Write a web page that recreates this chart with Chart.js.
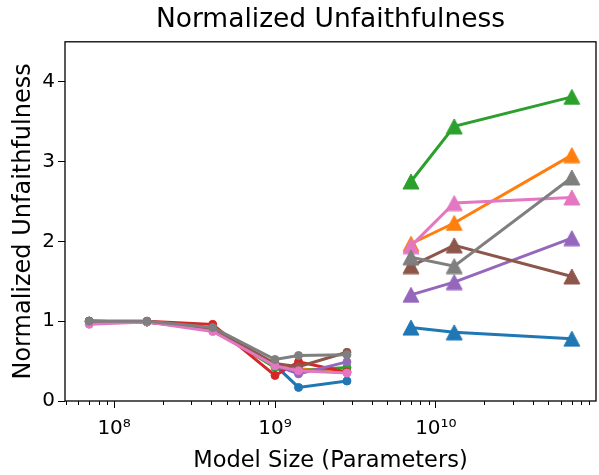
<!DOCTYPE html>
<html>
<head>
<meta charset="utf-8">
<script src="https://cdn.jsdelivr.net/npm/chart.js@4"></script>
<style>
  html, body { margin: 0; padding: 0; background: #fff; }
  #wrap { width: 599px; height: 475px; }
</style>
</head>
<body>
<div id="wrap"><canvas id="unfaithChart" width="599" height="475"></canvas></div>
<script>
// model sizes (parameters)
const smallSizes = [7e7, 1.6e8, 4.1e8, 1e9, 1.4e9, 2.8e9];
const largeSizes = [7e9, 1.3e10, 7e10];

// normalized unfaithfulness, small models
const smallBlue   = [1.00, 0.99, 0.90, 0.45, 0.17, 0.25];
const smallOrange = [1.00, 0.99, 0.90, 0.44, 0.40, 0.37];
const smallGreen  = [1.00, 0.99, 0.90, 0.42, 0.38, 0.42];
const smallRed    = [1.00, 1.00, 0.96, 0.32, 0.49, 0.36];
const smallPurple = [0.98, 0.99, 0.89, 0.45, 0.34, 0.49];
const smallBrown  = [1.00, 0.99, 0.91, 0.47, 0.43, 0.61];
const smallPink   = [0.96, 0.99, 0.87, 0.44, 0.38, 0.35];
const smallGray   = [1.00, 1.00, 0.92, 0.52, 0.57, 0.58];

// normalized unfaithfulness, large models
const largeBlue   = [0.92, 0.86, 0.78];
const largeOrange = [1.97, 2.23, 3.08];
const largeGreen  = [2.75, 3.44, 3.81];
const largePurple = [1.33, 1.49, 2.04];
const largeBrown  = [1.69, 1.95, 1.56];
const largePink   = [1.94, 2.48, 2.55];
const largeGray   = [1.80, 1.69, 2.80];

// axis ticks
const xMajorTicks = [1e8, 1e9, 1e10];
const xTickLabels = ['10\u2078', '10\u2079', '10\u00b9\u2070'];
const yTicks = [0, 1, 2, 3, 4];

const xMin = 4.95e7, xMax = 9.89e10;

const xMinorTicks = [];
for (let e = 7; e <= 10; e++) {
    for (let m = 2; m <= 9; m++) {
        const v = m * Math.pow(10, e);
        if (v > xMin && v < xMax) xMinorTicks.push(v);
    }
}

const groups = [
    { color: '#1f77b4', small: smallBlue,   large: largeBlue },
    { color: '#ff7f0e', small: smallOrange, large: largeOrange },
    { color: '#2ca02c', small: smallGreen,  large: largeGreen },
    { color: '#d62728', small: smallRed,    large: null },
    { color: '#9467bd', small: smallPurple, large: largePurple },
    { color: '#8c564b', small: smallBrown,  large: largeBrown },
    { color: '#e377c2', small: smallPink,   large: largePink },
    { color: '#7f7f7f', small: smallGray,   large: largeGray }
];

// upward triangle centred on its bounding box
function triangleMarker(color) {
    const c = document.createElement('canvas');
    c.width = 18;
    c.height = 17;
    const g = c.getContext('2d');
    g.fillStyle = color;
    g.strokeStyle = color;
    g.lineWidth = 1;
    g.beginPath();
    g.moveTo(c.width / 2, 1);
    g.lineTo(c.width - 1, c.height - 1);
    g.lineTo(1, c.height - 1);
    g.closePath();
    g.fill();
    g.stroke();
    return c;
}

function points(xs, ys) {
    return xs.map((x, i) => ({ x: x, y: ys[i] }));
}

const datasets = [];
groups.forEach(grp => {
    datasets.push({
        data: points(smallSizes, grp.small),
        borderColor: grp.color,
        backgroundColor: grp.color,
        pointBackgroundColor: grp.color,
        pointBorderColor: grp.color,
        pointStyle: 'circle',
        pointRadius: 4,
        pointBorderWidth: 1,
        borderWidth: 3,
        showLine: true,
        tension: 0
    });
});
groups.forEach(grp => {
    if (!grp.large) return;
    datasets.push({
        data: points(largeSizes, grp.large),
        borderColor: grp.color,
        backgroundColor: grp.color,
        pointStyle: triangleMarker(grp.color),
        pointRadius: 8,
        borderWidth: 3,
        showLine: true,
        tension: 0
    });
});
datasets.forEach((ds, i) => { ds.order = -i; });

const framePlugin = {
    id: 'frame',
    afterDraw(chart) {
        const { ctx, chartArea: a } = chart;
        const xs = chart.scales.x;
        ctx.save();
        ctx.strokeStyle = '#000';
        ctx.lineWidth = 1;
        xMinorTicks.forEach(v => {
            const px = Math.round(xs.getPixelForValue(v)) + 0.5;
            ctx.beginPath();
            ctx.moveTo(px, a.bottom);
            ctx.lineTo(px, a.bottom + 4);
            ctx.stroke();
        });
        ctx.lineWidth = 1.3;
        ctx.strokeRect(a.left, a.top, a.right - a.left, a.bottom - a.top);
        ctx.restore();
    }
};

Chart.defaults.font.family = 'DejaVu Sans';
Chart.defaults.color = '#000';

new Chart(document.getElementById('unfaithChart'), {
    type: 'scatter',
    data: { datasets: datasets },
    options: {
        responsive: false,
        animation: false,
        devicePixelRatio: 1,
        layout: { autoPadding: false, padding: { left: 0, right: 3, top: 0, bottom: 0 } },
        plugins: {
            legend: { display: false },
            tooltip: { enabled: false },
            title: {
                display: true,
                text: 'Normalized Unfaithfulness',
                fullSize: false,
                color: '#000',
                font: { size: 26.5, weight: 'normal' },
                padding: { top: 4, bottom: 6 }
            }
        },
        scales: {
            x: {
                type: 'logarithmic',
                min: xMin,
                max: xMax,
                afterBuildTicks: axis => {
                    axis.ticks = xMajorTicks.map(v => ({ value: v }));
                },
                afterFit: axis => { axis.height = 74; },
                ticks: {
                    autoSkip: false,
                    maxRotation: 0,
                    padding: 9,
                    color: '#000',
                    font: { size: 20 },
                    callback: (value, index) => xTickLabels[index]
                },
                grid: {
                    drawOnChartArea: false,
                    tickLength: 7,
                    tickWidth: 1,
                    tickColor: '#000'
                },
                border: { display: false },
                title: {
                    display: true,
                    text: 'Model Size (Parameters)',
                    color: '#000',
                    font: { size: 22.5 },
                    padding: { top: 0, bottom: 0 }
                }
            },
            y: {
                min: 0,
                max: 4.5,
                afterBuildTicks: axis => {
                    axis.ticks = yTicks.map(v => ({ value: v }));
                },
                afterFit: axis => { axis.width = 65; },
                ticks: {
                    padding: 3,
                    color: '#000',
                    font: { size: 20 },
                    callback: value => String(value)
                },
                grid: {
                    drawOnChartArea: false,
                    tickLength: 7,
                    tickWidth: 1,
                    tickColor: '#000'
                },
                border: { display: false },
                title: {
                    display: true,
                    text: 'Normalized Unfaithfulness',
                    color: '#000',
                    font: { size: 24 },
                    padding: { top: 9, bottom: 0 }
                }
            }
        }
    },
    plugins: [framePlugin]
});
</script>
</body>
</html>
